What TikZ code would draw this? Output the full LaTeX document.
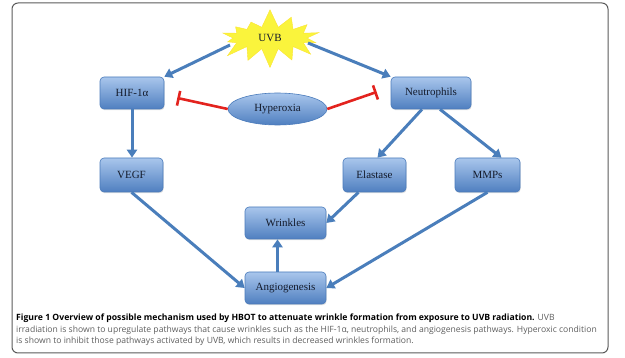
\documentclass[tikz,border=0pt]{standalone}
\usepackage{fontspec}
\setmainfont{Liberation Serif}
\newfontfamily\capfont{Open Sans}
\usepackage{tikz}
\usetikzlibrary{
  positioning, shapes.geometric, shapes.symbols, arrows.meta, shadows
}
\definecolor{boxtop}{HTML}{A9C6EC}
\definecolor{boxbottom}{HTML}{4F7FC0}
\definecolor{boxline}{HTML}{4A7BBB}
\definecolor{arrowblue}{HTML}{4A7EBB}
\definecolor{inhibred}{HTML}{E3231E}
\definecolor{uvbyellow}{HTML}{FAF43C}
\definecolor{textnavy}{HTML}{141B2B}
\definecolor{framegray}{HTML}{5A5A5A}
\definecolor{capgray}{HTML}{5E5E5E}
\tikzset{
	pathbox/.style={
			rectangle, rounded corners=4pt, draw=boxline, line width=0.6pt,
			top color=boxtop, bottom color=boxbottom,
			drop shadow={opacity=0.25, shadow xshift=0.6pt, shadow yshift=-1.2pt},
			font=\fontsize{11}{13}\selectfont\color{textnavy},
			minimum height=32pt, inner sep=2pt
		}
}
\tikzset{
	upreg/.style={draw=arrowblue, line width=3pt, -{Triangle[length=8pt,width=10pt]}}
}
\tikzset{
	inhibit/.style={draw=inhibred, line width=2.6pt, -{Bar[width=15pt,line width=2.6pt]}}
}
\tikzset{
	captext/.style={anchor=base west, inner sep=0pt, font=\capfont\fontsize{8.6}{10}\selectfont}
}

\begin{document}
\begin{tikzpicture}[x=1pt,y=-1pt]

			\useasboundingbox (0,0) rectangle (625,358);
			\draw[framegray, line width=1pt, rounded corners=6pt] (12,3) rectangle (608,353);

			\begin{scope}
				\node[starburst, fill=uvbyellow, draw=uvbyellow!85!orange, line width=0.4pt,
					minimum width=112pt, minimum height=60pt, starburst points=14,
					starburst point height=19pt, random starburst=7,
					font=\fontsize{11}{13}\selectfont\color{textnavy}] (uvb) at (270,38) {UVB};

				\node[ellipse, draw=boxline, line width=0.6pt, top color=boxtop, bottom color=boxbottom,
					minimum width=99pt, minimum height=32pt, inner sep=0pt,
					font=\fontsize{11}{13}\selectfont\color{textnavy}] (hyp) at (277.5,109) {Hyperoxia};
			\end{scope}

			\begin{scope}
				\node[pathbox, minimum width=64pt] (hif) at (132,93) {HIF-1α};
				\node[pathbox, minimum width=80pt] (neut) at (431,93) {Neutrophils};

				\node[pathbox, minimum width=63pt, minimum height=34pt] (vegf) at (131.5,175) {VEGF};
				\node[pathbox, minimum width=63pt, minimum height=34pt] (elast) at (374.5,175) {Elastase};
				\node[pathbox, minimum width=65pt, minimum height=34pt] (mmps) at (487.5,175) {MMPs};

				\node[pathbox, minimum width=81pt] (wrink) at (285.5,223) {Wrinkles};
				\node[pathbox, minimum width=81pt] (angio) at (285.5,288) {Angiogenesis};
			\end{scope}

			\begin{scope}
				\draw[upreg] ([xshift=-40pt,yshift=-7pt]uvb.center) -- (hif.north east);
				\draw[upreg] ([xshift=38pt,yshift=-5pt]uvb.center) -- (neut.north west);

				\draw[upreg] (hif.south) -- (hif.south |- vegf.north);
				\draw[upreg] ([xshift=-9pt]neut.south) -- ([xshift=3pt]elast.north);
				\draw[upreg] ([xshift=9pt]neut.south) -- ([xshift=14pt]mmps.north);

				\draw[upreg] (vegf.south) -- (angio.west);
				\draw[upreg] ([xshift=-16pt]elast.south) -- (wrink.east);
				\draw[upreg] (mmps.south) -- (angio.east);
				\draw[upreg] ([xshift=-8pt]angio.north) -- ([xshift=-8pt]wrink.south);

				\draw[inhibit] (hyp.west) -- ([xshift=13pt,yshift=-5pt]hif.east);
				\draw[inhibit] (hyp.east) -- ([xshift=-14pt,yshift=1pt]neut.west);
			\end{scope}

			\node[captext] (cap1) at (16,321) {{\bfseries\fontsize{8.65}{10}\selectfont Figure 1 Overview of possible mechanism used by HBOT to attenuate wrinkle formation from exposure to UVB radiation.} \color{capgray}UVB};
			\node[captext, color=capgray] (cap2) at (16,332.5) {irradiation is shown to upregulate pathways that cause wrinkles such as the HIF-1α, neutrophils, and angiogenesis pathways. Hyperoxic condition};
			\node[captext, color=capgray] (cap3) at (16,344) {is shown to inhibit those pathways activated by UVB, which results in decreased wrinkles formation.};

		\end{tikzpicture}
\end{document}
